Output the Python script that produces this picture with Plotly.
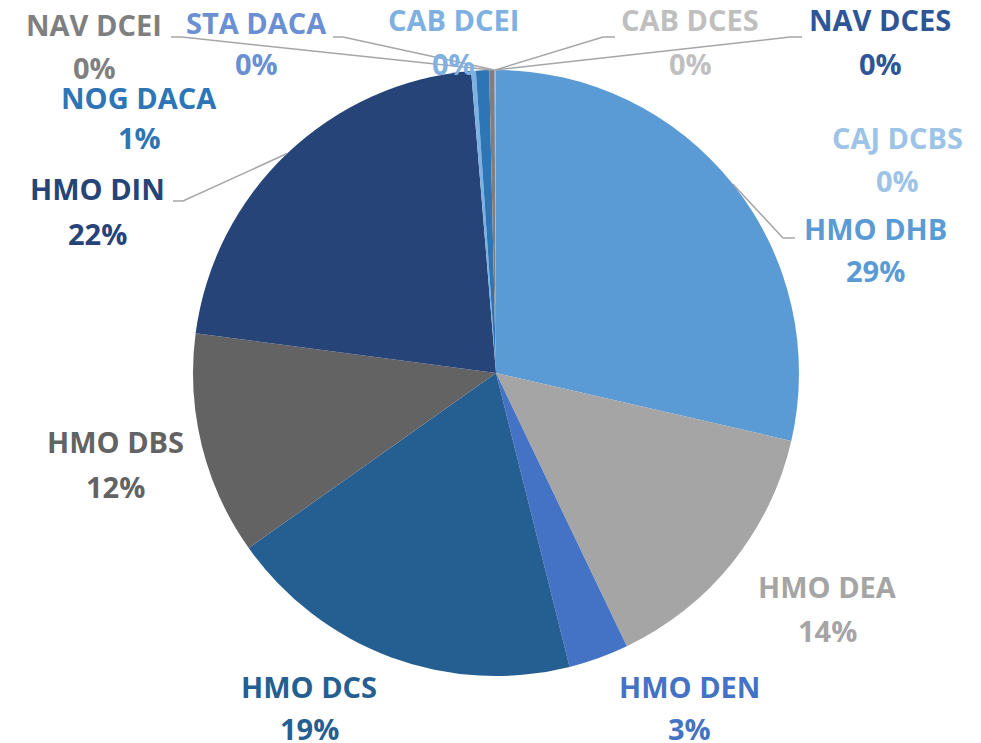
import math
import plotly.graph_objects as go

# ---- data ----
categories = ["HMO DHB", "HMO DEA", "HMO DEN", "HMO DCS", "HMO DBS", "HMO DIN",
              "CAB DCEI", "NOG DACA", "NAV DCEI", "STA DACA", "CAB DCES", "NAV DCES", "CAJ DCBS"]
values = [28.6, 14.3, 3.2, 19.1, 11.9, 21.6, 0.25, 0.7, 0.28, 0.02, 0.02, 0.02, 0.02]
colors = ["#5B9BD5", "#A5A5A5", "#4472C4", "#255E91", "#636363", "#264478",
          "#7EB1E1", "#2E75B6", "#7F7F7F", "#6A8FD3", "#BFBFBF", "#2F5597", "#9DC3E6"]

OFF = 8  # page body margin
W, H = 981 - OFF, 743 - OFF
CX, CY, R = 496, 373, 303

# label layout (pixel centres of name line and percent line, page coords)
label_pos = {
    "HMO DHB": (875, 228, 270),
    "HMO DEA": (827, 586, 630),
    "HMO DEN": (689, 686, 728),
    "HMO DCS": (309, 686, 728),
    "HMO DBS": (115, 441, 486),
    "HMO DIN": (97, 188, 233),
    "NOG DACA": (139, 97, 138),
    "NAV DCEI": (94, 24, 68),
    "STA DACA": (256, 22, 64),
    "CAB DCEI": (453, 20, 64),
    "CAB DCES": (690, 20, 64),
    "NAV DCES": (880, 20, 64),
    "CAJ DCBS": (897, 138, 181),
}
# leader line label-side points (start, elbow)
leaders = {
    "HMO DIN": ((173, 201), (183, 201)),
    "NAV DCEI": ((171, 37), (182, 37)),
    "STA DACA": ((333, 37), (343, 37)),
    "CAB DCES": ((615, 37), (603, 37)),
    "NAV DCES": ((802, 37), (790, 37)),
    "HMO DHB": ((795, 238), (783, 238)),
}

total = sum(values)

def px(x, y):
    return (x - OFF) / W, 1 - (y - OFF) / H

dx0, dy0 = px(CX - R, CY + R)
dx1, dy1 = px(CX + R, CY - R)

fig = go.Figure(go.Pie(
    labels=categories, values=values, sort=False, direction="clockwise", rotation=0,
    marker=dict(colors=colors, line=dict(width=0)),
    textinfo="none", hoverinfo="label+percent", showlegend=False,
    domain=dict(x=[dx0, dx1], y=[dy0, dy1]),
))

font_family = "Open Sans, Calibri, Carlito, sans-serif"
annotations = []
shapes = []
cum = 0.0
for name, v, c in zip(categories, values, colors):
    mid = (cum + v / 2) / total * 2 * math.pi
    cum += v
    x, y1, y2 = label_pos[name]
    pct = f"{round(v / total * 100)}%"
    for txt, yy in ((name, y1), (pct, y2)):
        ax, ay = px(x, yy)
        annotations.append(dict(x=ax, y=ay, xref="paper", yref="paper", text=f"<b>{txt}</b>",
                                showarrow=False, xanchor="center", yanchor="middle",
                                font=dict(family=font_family, size=29, color=c)))
    if name in leaders:
        (sx, sy), (ex, ey) = leaders[name]
        tx = CX + R * math.sin(mid)
        ty = CY - R * math.cos(mid)
        pts = [px(sx, sy), px(ex, ey), px(tx, ty)]
        path = "M {} {} L {} {} L {} {}".format(pts[0][0], pts[0][1], pts[1][0], pts[1][1], pts[2][0], pts[2][1])
        shapes.append(dict(type="path", path=path, xref="paper", yref="paper",
                           line=dict(color="#A6A6A6", width=1.5)))

fig.update_layout(width=W, height=H, margin=dict(l=0, r=0, t=0, b=0),
                  paper_bgcolor="white", plot_bgcolor="white",
                  annotations=annotations, shapes=shapes)
fig.write_html("out.html")
